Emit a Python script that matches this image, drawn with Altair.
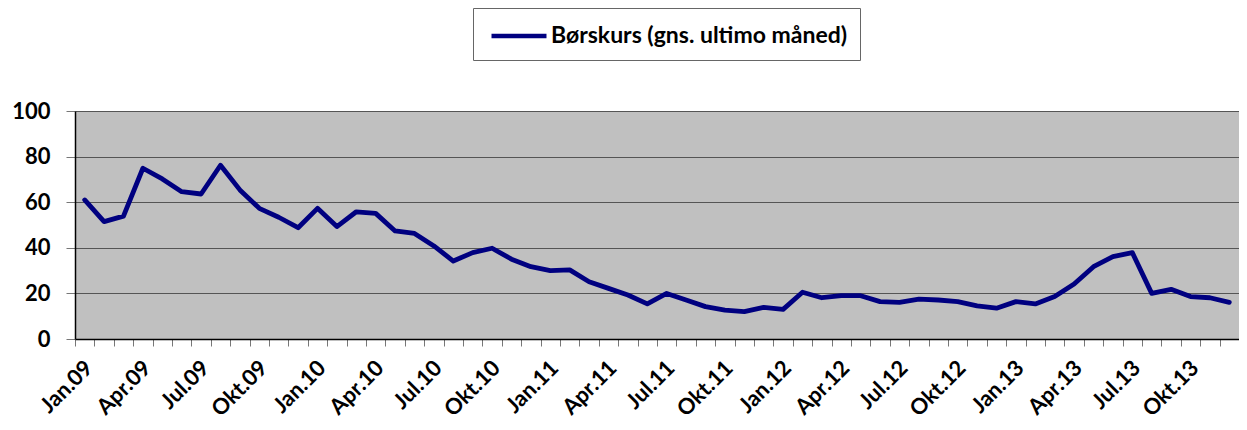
import altair as alt
import pandas as pd

months = ["Jan", "Feb", "Mar", "Apr", "Maj", "Jun", "Jul", "Aug", "Sep", "Okt", "Nov", "Dec"]
years = ["09", "10", "11", "12", "13"]
labels = [f"{m}.{y}" for y in years for m in months]

values = [
    61.0, 51.5, 53.9, 74.9, 70.2, 64.6, 63.6, 76.2, 65.4, 57.3, 53.4, 48.8,
    57.3, 49.3, 55.8, 55.1, 47.4, 46.3, 40.8, 34.2, 37.9, 39.8, 35.0, 31.7,
    30.0, 30.3, 25.1, 22.2, 19.3, 15.4, 20.0, 17.1, 14.2, 12.7, 12.0, 13.9,
    13.0, 20.5, 18.1, 19.0, 19.0, 16.4, 16.1, 17.5, 17.1, 16.4, 14.5, 13.5,
    16.4, 15.4, 18.6, 24.1, 31.7, 36.1, 37.9, 20.0, 21.8, 18.6, 18.1, 16.1,
]
series = "Børskurs (gns. ultimo måned)"

df = pd.DataFrame({"label": labels, "value": values, "series": series})

FONT = "Lato"

chart = alt.Chart(df).mark_line(strokeWidth=4.8, strokeCap="round", strokeJoin="round").encode(
    x=alt.X(
        "label:N",
        sort=labels,
        bandPosition=0.5,
        scale=alt.Scale(type="band", paddingInner=0, paddingOuter=0),
        axis=alt.Axis(
            title=None,
            tickBand="extent",
            grid=False,
            domainColor="#000000",
            domainWidth=1.5,
            tickColor="#777777",
            tickSize=7,
            labelAngle=-45,
            labelAlign="right",
            labelBaseline="middle",
            labelFont=FONT,
            labelFontSize=22,
            labelFontWeight="bold",
            labelColor="#000000",
            labelPadding=18,
            labelOffset=4,
            labelOverlap=False,
            labelExpr="indexof(['Jan','Apr','Jul','Okt'], split(datum.value, '.')[0]) >= 0 ? datum.value : ''",
        ),
    ),
    y=alt.Y(
        "value:Q",
        scale=alt.Scale(domain=[0, 100], nice=False),
        axis=alt.Axis(
            title=None,
            values=[0, 20, 40, 60, 80, 100],
            grid=True,
            gridColor="#555555",
            gridWidth=1,
            domainColor="#000000",
            domainWidth=1.5,
            tickColor="#777777",
            tickSize=9,
            labelFont=FONT,
            labelFontSize=22,
            labelFontWeight="bold",
            labelColor="#000000",
            labelPadding=16,
        ),
    ),
    color=alt.Color(
        "series:N",
        scale=alt.Scale(range=["#000080"]),
        legend=alt.Legend(
            title=None,
            orient="none",
            legendX=398,
            legendY=-103,
            symbolType="M-2,0H2",
            symbolSize=756,
            symbolStrokeWidth=4.5,
            symbolOffset=18,
            labelFont=FONT,
            labelFontSize=23,
            labelFontWeight="bold",
            labelColor="#000000",
            labelLimit=600,
            labelOffset=16,
            strokeColor="#666666",
            padding=12,
            fillColor="#FFFFFF",
        ),
    ),
).properties(
    width=1164,
    height=228,
    autosize=alt.AutoSizeParams(type="none"),
    padding={"left": 67, "top": 103, "right": 0, "bottom": 90},
).configure_view(
    fill="#C0C0C0",
    stroke="#777777",
    strokeWidth=1,
)

chart.save("out.html", embed_options={"renderer": "svg", "actions": False})
